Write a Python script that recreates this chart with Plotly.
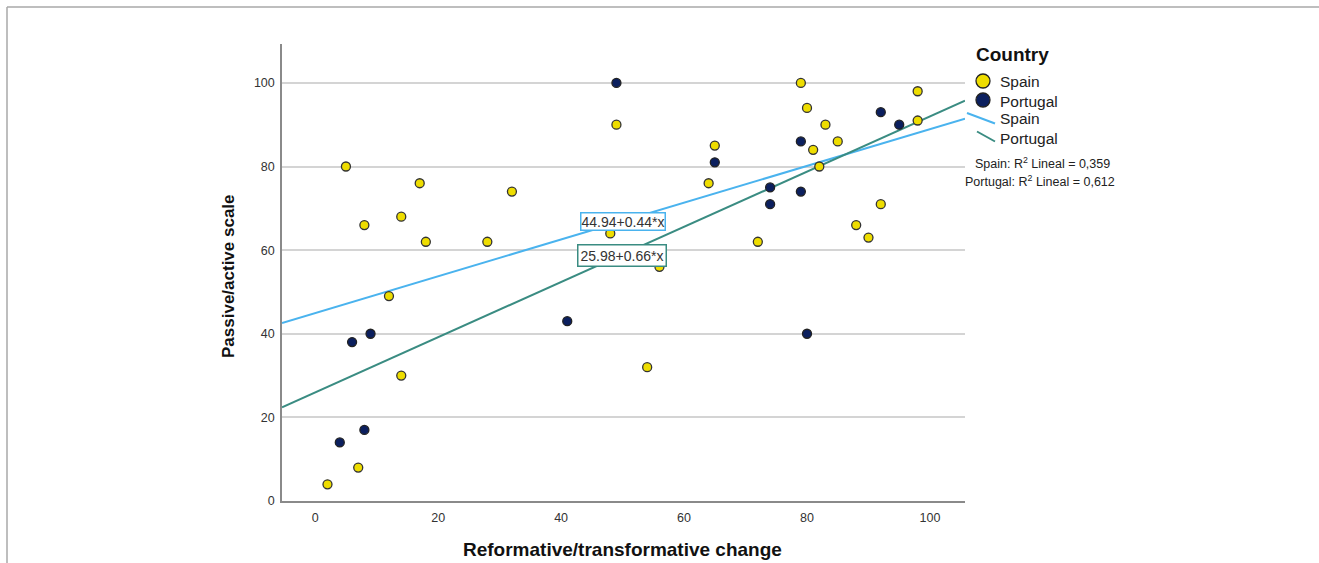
import plotly.graph_objects as go

# ---------------- data ----------------
spain_x = [2, 7, 5, 8, 12, 14, 14, 17, 18, 28, 32, 48, 49, 54, 56, 64, 65, 72,
           79, 80, 81, 82, 83, 85, 88, 90, 92, 98, 98]
spain_y = [4, 8, 80, 66, 49, 68, 30, 76, 62, 62, 74, 64, 90, 32, 56, 76, 85, 62,
           100, 94, 84, 80, 90, 86, 66, 63, 71, 98, 91]
portugal_x = [4, 6, 8, 9, 41, 49, 65, 74, 74, 79, 79, 80, 92, 95]
portugal_y = [14, 38, 17, 40, 43, 100, 81, 75, 71, 86, 74, 40, 93, 90]

spain_fit = (44.94, 0.44)      # intercept, slope
portugal_fit = (25.98, 0.66)
spain_r2 = "0,359"
portugal_r2 = "0,612"

x_ticks = [0, 20, 40, 60, 80, 100]
y_ticks = [0, 20, 40, 60, 80, 100]
x_range = [-5.4, 105.7]
y_range = [0, 109.3]

# ---------------- styling ----------------
W, H = 1319, 563
L, R, T, B = 282, 965, 44, 501
FONT = "Arial, Liberation Sans, sans-serif"
YELLOW = "#EEDD00"
NAVY = "#0B1F5E"
C_SPAIN = "#4AB3EE"
C_PORT = "#3A8C82"


def px(x):
    return (x - L) / (R - L)


def py(y):
    return (B - y) / (B - T)


fig = go.Figure()

for (a, b), col, name in [(spain_fit, C_SPAIN, "Spain fit"), (portugal_fit, C_PORT, "Portugal fit")]:
    fig.add_trace(go.Scatter(
        x=x_range, y=[a + b * v for v in x_range], mode="lines",
        line=dict(color=col, width=2), showlegend=False, name=name, hoverinfo="skip"))

fig.add_trace(go.Scatter(
    x=spain_x, y=spain_y, mode="markers", name="Spain", showlegend=False,
    marker=dict(color=YELLOW, size=9, line=dict(color="#333333", width=1.3))))
fig.add_trace(go.Scatter(
    x=portugal_x, y=portugal_y, mode="markers", name="Portugal", showlegend=False,
    marker=dict(color=NAVY, size=9, line=dict(color="#222222", width=1.3))))

fig.update_layout(
    width=W, height=H,
    margin=dict(l=L, r=W - R, t=T, b=H - B, pad=0),
    paper_bgcolor="white", plot_bgcolor="white",
    font=dict(family=FONT, color="#333333", size=12),
    showlegend=False,
)
fig.update_xaxes(range=x_range, tickvals=x_ticks, showgrid=False, zeroline=False,
                 showline=True, linecolor="#8a8a8a", linewidth=1.5, ticks="",
                 tickfont=dict(size=12.5, color="#333333"), ticklabelstandoff=4)
fig.update_yaxes(range=y_range, tickvals=y_ticks, showgrid=True, gridcolor="#d4d4d4",
                 gridwidth=1.5, zeroline=False, showline=True, linecolor="#8a8a8a",
                 linewidth=1.5, ticks="", tickfont=dict(size=12.5, color="#333333"),
                 ticklabelstandoff=3)

ann = []
# axis titles
ann.append(dict(x=px(622), y=py(549), xref="paper", yref="paper", showarrow=False,
                text="<b>Reformative/transformative change</b>",
                font=dict(size=19, color="#111111"), xanchor="center", yanchor="middle"))
ann.append(dict(x=px(228), y=py(276), xref="paper", yref="paper", showarrow=False,
                text="<b>Passive/active scale</b>", textangle=-90,
                font=dict(size=17, color="#111111"), xanchor="center", yanchor="middle"))
# equation labels
ann.append(dict(x=px(623), y=py(221), xref="paper", yref="paper", showarrow=False,
                text=f"{spain_fit[0]:.2f}+{spain_fit[1]:.2f}*x",
                font=dict(size=14, color="#333333"), bgcolor="white",
                bordercolor=C_SPAIN, borderwidth=1.5, borderpad=0))
ann.append(dict(x=px(622), y=py(255), xref="paper", yref="paper", showarrow=False,
                text=f"{portugal_fit[0]:.2f}+{portugal_fit[1]:.2f}*x",
                font=dict(size=14, color="#333333"), bgcolor="white",
                bordercolor=C_PORT, borderwidth=1.5, borderpad=2))
# legend
ann.append(dict(x=px(974), y=py(55), xref="paper", yref="paper", showarrow=False,
                text="<b>Country</b>", font=dict(size=19, color="#111111"),
                xanchor="left", yanchor="middle"))
for lbl, yy in [("Spain", 82), ("Portugal", 101), ("Spain", 119), ("Portugal", 138)]:
    ann.append(dict(x=px(998), y=py(yy), xref="paper", yref="paper", showarrow=False,
                    text=lbl, font=dict(size=15.5, color="#222222"),
                    xanchor="left", yanchor="middle"))
ann.append(dict(x=px(1042), y=py(163), xref="paper", yref="paper", showarrow=False,
                text=f"Spain: R<sup>2</sup> Lineal = {spain_r2}",
                font=dict(size=12.5, color="#222222"), xanchor="center", yanchor="middle"))
ann.append(dict(x=px(1040), y=py(181), xref="paper", yref="paper", showarrow=False,
                text=f"Portugal: R<sup>2</sup> Lineal = {portugal_r2}",
                font=dict(size=12.5, color="#222222"), xanchor="center", yanchor="middle"))
fig.update_layout(annotations=ann)

shapes = []
# legend markers
for cy, col in [(81, YELLOW), (100, NAVY)]:
    shapes.append(dict(type="circle", xref="paper", yref="paper",
                       x0=px(976), x1=px(990), y0=py(cy + 7), y1=py(cy - 7),
                       fillcolor=col, line=dict(color="#222222", width=1.3)))
# legend lines
shapes.append(dict(type="line", xref="paper", yref="paper",
                   x0=px(967), y0=py(113), x1=px(995), y1=py(123.5),
                   line=dict(color=C_SPAIN, width=2)))
shapes.append(dict(type="line", xref="paper", yref="paper",
                   x0=px(977), y0=py(131.5), x1=px(995), y1=py(141.5),
                   line=dict(color=C_PORT, width=2)))
# outer frame (top and left)
shapes.append(dict(type="line", xref="paper", yref="paper",
                   x0=px(7), y0=py(7), x1=px(W + 5), y1=py(7),
                   line=dict(color="#a8a8a8", width=1.5)))
shapes.append(dict(type="line", xref="paper", yref="paper",
                   x0=px(7), y0=py(7), x1=px(7), y1=py(H + 5),
                   line=dict(color="#a8a8a8", width=1.5)))
fig.update_layout(shapes=shapes)

fig.write_html("out.html")
